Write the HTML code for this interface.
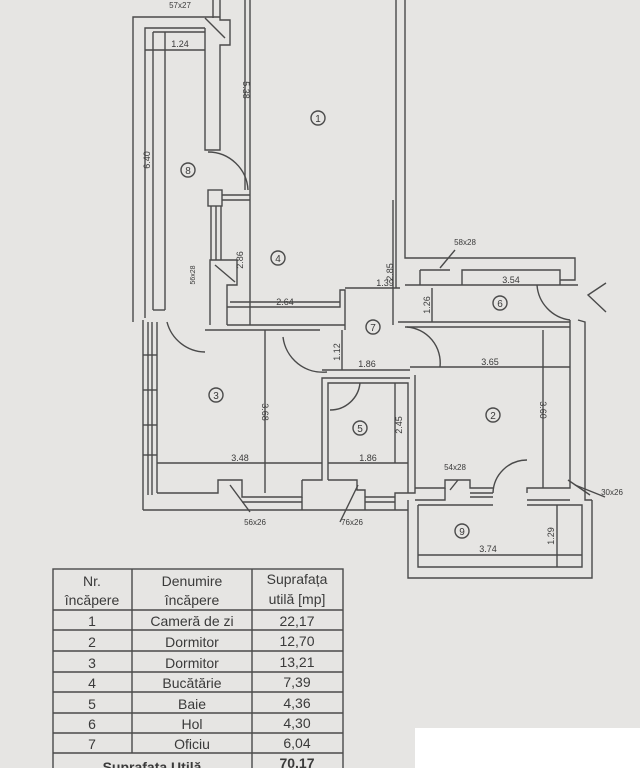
<!DOCTYPE html>
<html><head><meta charset="utf-8"><style>
html,body{margin:0;padding:0;background:#e6e5e3;}
svg{display:block;}
text{font-family:"Liberation Sans",sans-serif;fill:#3a3a3a;}
</style></head><body>
<svg width="640" height="768" viewBox="0 0 640 768" xmlns="http://www.w3.org/2000/svg">
<rect width="640" height="768" fill="#e6e5e3"/>
<g fill="none" stroke="#4a4a4a" stroke-width="1.4">
<!-- left outer wall -->
<polyline points="220,17 133,17 133,322"/>
<polyline points="205,28 145,28 145,318"/>
<line x1="153" y1="32" x2="153" y2="310"/>
<line x1="165" y1="32" x2="165" y2="310"/>
<polyline points="153,310 165,310"/>
<polyline points="153,32 205,32"/>
<!-- room 8 right wall -->
<polyline points="205,28 205,150 220,150 220,45 230,45 230,20 220,20 220,0"/>
<polyline points="213,0 213,18"/>
<!-- door 8 -->
<path d="M208,152 A40,40 0 0 1 248,190"/>
<!-- room1 left line -->
<line x1="250" y1="0" x2="250" y2="325"/>
<line x1="245" y1="0" x2="245" y2="190"/>
<!-- stub & window -->
<rect x="208" y="190" width="14" height="16"/>
<line x1="222" y1="195" x2="250" y2="195"/><line x1="222" y1="200" x2="250" y2="200"/>
<line x1="211" y1="206" x2="211" y2="260"/><line x1="216" y1="206" x2="216" y2="260"/><line x1="221" y1="206" x2="221" y2="260"/>
<polyline points="210,325 210,260 237,260 237,285 227,285 227,325"/>
<line x1="215" y1="265" x2="235" y2="282"/>
<!-- kitchen bottom -->
<polyline points="227,307 340,307 340,290 345,290 345,330"/>
<line x1="227" y1="325" x2="345" y2="325"/>
<line x1="230" y1="302" x2="340" y2="302"/>
<line x1="345" y1="288" x2="400" y2="288"/>
<!-- room1 right wall -->
<line x1="396" y1="0" x2="396" y2="288"/>
<polyline points="405,0 405,258 575,258 575,280 560,280"/>
<polyline points="393,200 393,325"/>
<polyline points="405,285 578,285"/>
<polyline points="462,285 462,270 560,270 560,285"/>
<line x1="420" y1="270" x2="450" y2="270"/>
<line x1="420" y1="270" x2="420" y2="285"/>
<line x1="440" y1="268" x2="455" y2="250"/>
<line x1="432" y1="288" x2="432" y2="322"/>
<!-- door 6 -->
<path d="M537,285 A38,38 0 0 0 570,320"/>
<!-- hall bottom -->
<line x1="398" y1="322" x2="570" y2="322"/>
<line x1="405" y1="327" x2="570" y2="327"/>
<!-- right wall -->
<polyline points="570,320 570,488 562,488"/>
<polyline points="578,320 585,322 585,500 592,500"/>
<!-- left window wall -->
<line x1="143" y1="320" x2="143" y2="510"/>
<line x1="148" y1="322" x2="148" y2="495"/>
<line x1="152" y1="322" x2="152" y2="495"/>
<line x1="157" y1="322" x2="157" y2="493"/>
<line x1="143" y1="355" x2="157" y2="355"/><line x1="143" y1="390" x2="157" y2="390"/><line x1="143" y1="425" x2="157" y2="425"/><line x1="143" y1="455" x2="157" y2="455"/>
<!-- bottom wall -->
<polyline points="157,493 218,493 218,480 242,480 242,497 302,497 302,480"/>
<line x1="143" y1="510" x2="408" y2="510"/>
<line x1="242" y1="502" x2="302" y2="502"/>
<polyline points="302,480 322,480 322,378 410,378"/>
<polyline points="328,480 328,383 408,383 408,493"/>
<polyline points="328,480 357,480 357,490 365,490 365,510"/>
<line x1="302" y1="497" x2="302" y2="510"/>
<line x1="365" y1="497" x2="395" y2="497"/><line x1="365" y1="502" x2="395" y2="502"/>
<polyline points="395,510 395,493 415,493 415,375"/>
<line x1="322" y1="370" x2="410" y2="370"/>
<!-- room3 top -->
<line x1="205" y1="330" x2="320" y2="330"/>
<path d="M167,322 A40,40 0 0 0 205,352"/>
<!-- door arcs -->
<path d="M283,337 A40,40 0 0 0 327,372"/>
<path d="M407,327 A36,36 0 0 1 440,367"/>
<path d="M330,410 A30,30 0 0 0 360,383"/>
<!-- room 2 -->
<polyline points="415,488 445,488 445,480 470,480 470,488 493,488"/>
<line x1="470" y1="493" x2="493" y2="493"/><line x1="470" y1="497" x2="493" y2="497"/>
<path d="M493,493 A34,34 0 0 1 527,460"/>
<polyline points="527,493 527,488 562,488"/>
<polyline points="415,500 445,500 445,488"/>
<polyline points="527,500 570,500"/>
<line x1="568" y1="480" x2="590" y2="495"/>
<!-- balcony 9 -->
<polyline points="408,500 408,578 592,578 592,500"/>
<polyline points="418,505 418,567 582,567 582,505 527,505"/>
<line x1="418" y1="505" x2="493" y2="505"/>
<!-- dimension lines -->
<line x1="418" y1="555" x2="582" y2="555"/>
<line x1="557" y1="505" x2="557" y2="567"/>
<line x1="410" y1="367" x2="570" y2="367"/>
<line x1="543" y1="330" x2="543" y2="488"/>
<line x1="265" y1="330" x2="265" y2="493"/>
<line x1="157" y1="463" x2="322" y2="463"/>
<line x1="328" y1="463" x2="408" y2="463"/>
<line x1="395" y1="383" x2="395" y2="463"/>
<line x1="342" y1="330" x2="342" y2="370"/>
<line x1="145" y1="50" x2="205" y2="50"/>
<!-- callouts -->
<line x1="205" y1="18" x2="225" y2="38"/>
<line x1="230" y1="485" x2="250" y2="512"/>
<line x1="358" y1="485" x2="340" y2="522"/>
<line x1="450" y1="490" x2="458" y2="480"/>
<line x1="575" y1="485" x2="605" y2="497"/>
<!-- arrow -->
<polyline points="606,283 588,295 606,312"/>
<!-- room circles -->
<circle cx="318" cy="118" r="7"/><circle cx="188" cy="170" r="7"/><circle cx="278" cy="258" r="7"/>
<circle cx="373" cy="327" r="7"/><circle cx="500" cy="303" r="7"/><circle cx="216" cy="395" r="7"/>
<circle cx="360" cy="428" r="7"/><circle cx="493" cy="415" r="7"/><circle cx="462" cy="531" r="7"/>
</g>
<g font-size="10" text-anchor="middle">
<text x="318" y="122">1</text><text x="188" y="174">8</text><text x="278" y="262">4</text>
<text x="373" y="331">7</text><text x="500" y="307">6</text><text x="216" y="399">3</text>
<text x="360" y="432">5</text><text x="493" y="419">2</text><text x="462" y="535">9</text>
</g>
<g font-size="9" text-anchor="middle">
<text x="180" y="47">1.24</text>
<text x="385" y="286">1.39</text>
<text x="285" y="305">2.64</text>
<text x="511" y="283">3.54</text>
<text x="367" y="367">1.86</text>
<text x="490" y="365">3.65</text>
<text x="240" y="461">3.48</text>
<text x="368" y="461">1.86</text>
<text x="488" y="552">3.74</text>
<text font-size="8" x="180" y="8">57x27</text>
<text font-size="8" x="465" y="245">58x28</text>
<text font-size="8" x="255" y="525">56x26</text>
<text font-size="8" x="352" y="525">76x26</text>
<text font-size="8" x="455" y="470">54x28</text>
<text font-size="8" x="612" y="495">30x26</text>
<text transform="translate(243,90) rotate(90)">5.38</text>
<text transform="translate(150,160) rotate(-90)">6.40</text>
<text transform="translate(243,260) rotate(-90)">2.86</text>
<text transform="translate(393,272) rotate(-90)">2.85</text>
<text transform="translate(430,305) rotate(-90)">1.26</text>
<text transform="translate(340,352) rotate(-90)">1.12</text>
<text transform="translate(262,412) rotate(90)">3.68</text>
<text transform="translate(540,410) rotate(90)">3.60</text>
<text transform="translate(402,425) rotate(-90)">2.45</text>
<text transform="translate(554,536) rotate(-90)">1.29</text>
<text font-size="7" transform="translate(195,275) rotate(-90)">56x28</text>
</g>
<!-- table -->
<g fill="none" stroke="#4a4a4a" stroke-width="1.4">
<rect x="53" y="569" width="290" height="205"/>
<line x1="132" y1="569" x2="132" y2="753"/>
<line x1="252" y1="569" x2="252" y2="774"/>
<line x1="53" y1="610" x2="343" y2="610"/>
<line x1="53" y1="630" x2="343" y2="630"/>
<line x1="53" y1="651" x2="343" y2="651"/>
<line x1="53" y1="672" x2="343" y2="672"/>
<line x1="53" y1="692" x2="343" y2="692"/>
<line x1="53" y1="713" x2="343" y2="713"/>
<line x1="53" y1="733" x2="343" y2="733"/>
<line x1="53" y1="753" x2="343" y2="753"/>
</g>
<g font-size="14" text-anchor="middle">
<text x="92" y="586">Nr.</text><text x="92" y="605">încăpere</text>
<text x="192" y="586">Denumire</text><text x="192" y="605">încăpere</text>
<text x="297" y="584">Suprafața</text><text x="297" y="604">utilă [mp]</text>
<text x="92" y="626">1</text><text x="192" y="626">Cameră de zi</text><text x="297" y="626">22,17</text>
<text x="92" y="647">2</text><text x="192" y="647">Dormitor</text><text x="297" y="646">12,70</text>
<text x="92" y="668">3</text><text x="192" y="668">Dormitor</text><text x="297" y="667">13,21</text>
<text x="92" y="688">4</text><text x="192" y="688">Bucătărie</text><text x="297" y="687">7,39</text>
<text x="92" y="709">5</text><text x="192" y="709">Baie</text><text x="297" y="708">4,36</text>
<text x="92" y="729">6</text><text x="192" y="729">Hol</text><text x="297" y="728">4,30</text>
<text x="92" y="749">7</text><text x="192" y="749">Oficiu</text><text x="297" y="748">6,04</text>
<text x="152" y="772" font-weight="bold">Suprafata Utilă</text><text x="297" y="768" font-weight="bold">70,17</text>
</g>
<rect x="415" y="728" width="225" height="40" fill="#ffffff"/>
</svg>
</body></html>
